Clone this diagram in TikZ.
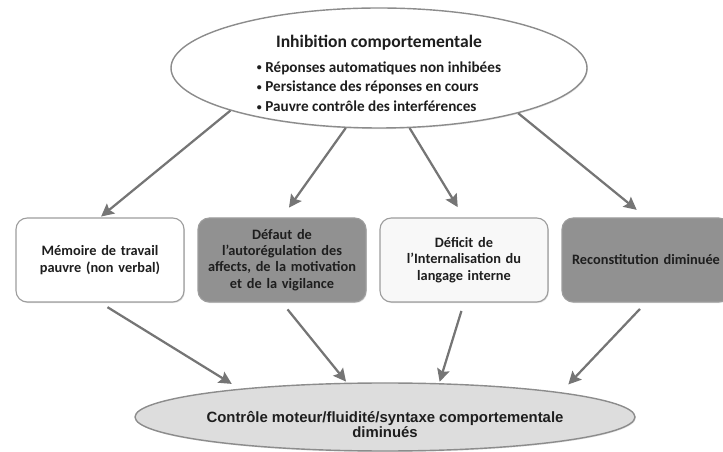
\documentclass[tikz,border=0pt]{standalone}
\usepackage{fontspec}
\setmainfont{Carlito}
\newfontfamily\arialfont{Liberation Sans}
\usetikzlibrary{shapes.geometric, arrows.meta, positioning, shadows}
\definecolor{linegray}{HTML}{8C8C8C}
\definecolor{arrowgray}{HTML}{757575}
\definecolor{darkfill}{HTML}{919191}
\definecolor{palefill}{HTML}{F8F8F8}
\definecolor{ovalfill}{HTML}{DDDDDD}
\definecolor{textdark}{HTML}{1E1E1E}
\newcommand{\smallbullet}{\raisebox{1pt}{\fontsize{7}{7}\selectfont•}}

\begin{document}
\begin{tikzpicture}
\tikzstyle{oval} = [ellipse, draw=linegray, line width=1pt, inner sep=0pt, align=center, text=textdark, drop shadow={opacity=0.2, shadow xshift=0.6pt, shadow yshift=-0.8pt}]
\tikzstyle{box} = [rectangle, rounded corners=8pt, draw=linegray!85, line width=0.8pt, minimum width=4.2cm, minimum height=2.1cm, text width=3.9cm, align=center, text=textdark, font=\fontsize{10.2}{11.6}\selectfont\bfseries, drop shadow={opacity=0.25, shadow xshift=0.6pt, shadow yshift=-0.8pt}]
\tikzstyle{whitebox} = [box, fill=white]
\tikzstyle{palebox} = [box, fill=palefill]
\tikzstyle{greybox} = [box, fill=darkfill]
\tikzstyle{arrow} = [draw=arrowgray, line width=1.6pt, -{Stealth[length=9pt, width=9pt, inset=1.5pt]}]

\useasboundingbox (0,0) rectangle (18.075,-11.3);

%nodes
\node (inhib) [oval, fill=white, minimum width=10.4cm, minimum height=3cm] at (9.475,-1.7) {\makebox[0pt]{\raisebox{-8.5pt}[0pt][0pt]{\bfseries
  \begin{tabular}{@{}c@{}}
  {\fontsize{12.5}{15}\selectfont Inhibition comportementale}\\[4pt]
  {\fontsize{10.8}{14}\selectfont\begin{tabular}{@{}l@{}}
  \smallbullet\ Réponses automatiques non inhibées\\
  \smallbullet\ Persistance des réponses en cours\\
  \smallbullet\ Pauvre contrôle des interférences
  \end{tabular}}
  \end{tabular}}}};
\node (memoire) [whitebox] at (2.5,-6.5) {Mémoire de travail\\pauvre (non verbal)};
\node (affects) [greybox, right of=memoire, xshift=3.55cm] {Défaut de\\l’autorégulation des\\affects, de la motivation\\et de la vigilance};
\node (langage) [palebox, right of=affects, xshift=3.55cm] {Déficit de\\l’Internalisation du\\langage interne};
\node (reconst) [greybox, right of=langage, xshift=3.55cm] {Reconstitution diminuée};
\node (controle) [oval, fill=ovalfill, minimum width=12.5cm, minimum height=1.7cm] at (9.625,-10.425) {\makebox[0pt]{\raisebox{-9.5pt}[0pt][0pt]{\arialfont\bfseries\fontsize{10.6}{10.8}\selectfont
  \begin{tabular}{@{}c@{}}
  Contrôle moteur/fluidité/syntaxe comportementale\\
  diminués
  \end{tabular}}}};

%arrows
\draw [arrow, shorten >=1pt] (inhib.196.6) -- (memoire.north);
\draw [arrow, shorten >=0.3cm] (inhib.241.5) -- (affects.north);
\draw [arrow, shorten >=0.3cm] (inhib.297.7) -- (langage.north);
\draw [arrow, shorten >=0.3cm] (inhib.342.9) -- (reconst.north);
\draw [arrow, shorten <=0.22cm, shorten >=0.23cm] (memoire.south) -- (controle.169.4);
\draw [arrow, shorten <=0.22cm, shorten >=1pt] (affects.south) -- (controle.138.8);
\draw [arrow, shorten <=0.22cm, shorten >=1pt] (langage.south) -- (controle.32.6);
\draw [arrow, shorten <=0.22cm, shorten >=0.27cm] (reconst.south) -- (controle.8.3);
\end{tikzpicture}
\end{document}
